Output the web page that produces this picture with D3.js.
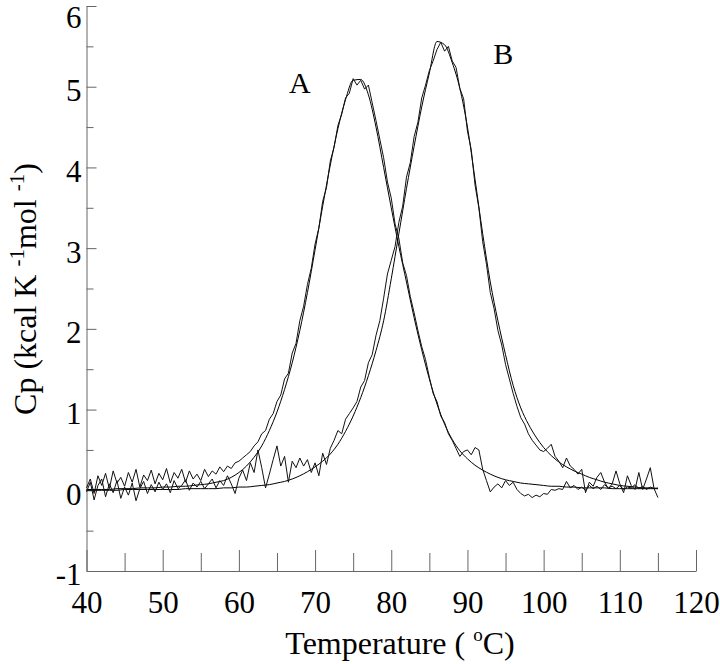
<!DOCTYPE html>
<html>
<head>
<meta charset="utf-8">
<script src="https://cdn.jsdelivr.net/npm/d3@7"></script>
<style>
  body { margin: 0; background: #fff; }
  text { font-family: "Liberation Serif", "Times New Roman", serif; fill: #000; }
</style>
</head>
<body>
<div id="chart"></div>
<script>
// Scan temperatures (deg C) for the raw DSC traces
var scanTemps = [
  40, 40.5, 41, 41.5, 42, 42.5, 43, 43.5, 44, 44.5,
  45, 45.5, 46, 46.5, 47, 47.5, 48, 48.5, 49, 49.5,
  50, 50.5, 51, 51.5, 52, 52.5, 53, 53.5, 54, 54.5,
  55, 55.5, 56, 56.5, 57, 57.5, 58, 58.5, 59, 59.5,
  60, 60.5, 61, 61.5, 62, 62.5, 63, 63.5, 64, 64.5,
  65, 65.5, 66, 66.5, 67, 67.5, 68, 68.5, 69, 69.5,
  70, 70.5, 71, 71.5, 72, 72.5, 73, 73.5, 74, 74.5,
  75, 75.5, 76, 76.5, 77, 77.5, 78, 78.5, 79, 79.5,
  80, 80.5, 81, 81.5, 82, 82.5, 83, 83.5, 84, 84.5,
  85, 85.5, 86, 86.5, 87, 87.5, 88, 88.5, 89, 89.5,
  90, 90.5, 91, 91.5, 92, 92.5, 93, 93.5, 94, 94.5,
  95, 95.5, 96, 96.5, 97, 97.5, 98, 98.5, 99, 99.5,
  100, 100.5, 101, 101.5, 102, 102.5, 103, 103.5, 104, 104.5,
  105, 105.5, 106, 106.5, 107, 107.5, 108, 108.5, 109, 109.5,
  110, 110.5, 111, 111.5, 112, 112.5, 113, 113.5, 114, 114.5,
  115
];

// Raw trace A (Cp, kcal/K/mol)
var rawA = [
  0.03, 0.14, -0.04, 0.18, 0.06, 0.21, 0.02, 0.24, 0.09, 0.16,
  0.05, 0.22, 0.10, 0.26, 0.04, 0.19, 0.12, 0.25, 0.08, 0.21,
  0.13, 0.27, 0.09, 0.22, 0.15, 0.26, 0.10, 0.24, 0.14, 0.20,
  0.12, 0.26, 0.17, 0.24, 0.20, 0.29, 0.23, 0.30, 0.27, 0.34,
  0.36, 0.40, 0.44, 0.48, 0.55, 0.60, 0.70, 0.74, 0.88, 0.95,
  1.10, 1.18, 1.38, 1.45, 1.70, 1.82, 2.10, 2.28, 2.55, 2.75,
  3.05, 3.25, 3.58, 3.75, 4.08, 4.25, 4.52, 4.66, 4.86, 4.92,
  5.10, 5.02, 5.08, 4.97, 5.02, 4.80, 4.58, 4.35, 4.12, 3.82,
  3.62, 3.30, 3.12, 2.82, 2.66, 2.40, 2.20, 1.98, 1.78, 1.62,
  1.40, 1.20, 1.10, 0.92, 0.84, 0.70, 0.62, 0.52, 0.42, 0.48,
  0.50, 0.44, 0.53, 0.50, 0.26, 0.12, -0.02, 0.04, 0.08, 0.03,
  0.12, 0.06, 0.10, 0.01, -0.04, -0.07, -0.05, -0.09, -0.06, -0.08,
  -0.04, -0.05, 0.01, 0.00, 0.02, 0.01, 0.11, 0.03, 0.06, 0.01,
  0.04, 0.00, 0.06, 0.02, 0.05, 0.01, 0.07, 0.03, 0.05, 0.02,
  0.06, 0.01, 0.04, 0.03, 0.07, 0.02, 0.05, 0.01, 0.04, 0.02,
  0.03
];

// Raw trace B (Cp, kcal/K/mol)
var rawB = [
  -0.02, 0.10, -0.12, 0.06, 0.14, -0.08, 0.08, -0.03, 0.12, -0.10,
  0.04, -0.06, 0.09, -0.13, 0.02, 0.11, -0.04, 0.07, -0.02, 0.10,
  0.01, 0.08, -0.03, 0.12, 0.02, 0.06, 0.13, 0.00, 0.09, 0.04,
  0.11, 0.02, 0.08, 0.14, 0.03, 0.12, 0.06, 0.18, 0.08, -0.04,
  0.15, 0.25, 0.12, 0.34, 0.22, 0.50, 0.28, 0.03, 0.20, 0.38,
  0.55, 0.30, 0.42, 0.10, 0.36, 0.28, 0.40, 0.30, 0.38, 0.22,
  0.34, 0.18, 0.46, 0.32, 0.52, 0.62, 0.74, 0.70, 0.88, 0.95,
  1.02, 1.10, 1.28, 1.36, 1.58, 1.68, 1.92, 2.10, 2.38, 2.68,
  2.85, 3.02, 3.32, 3.52, 3.88, 4.06, 4.38, 4.56, 4.86, 5.02,
  5.20, 5.32, 5.46, 5.55, 5.44, 5.50, 5.32, 5.24, 4.98, 4.85,
  4.45, 4.22, 3.78, 3.50, 3.08, 2.80, 2.45, 2.25, 1.98, 1.80,
  1.56, 1.38, 1.20, 1.04, 0.90, 0.82, 0.70, 0.62, 0.56, 0.50,
  0.48, 0.52, 0.57, 0.42, 0.36, 0.28, 0.40, 0.30, 0.26, 0.20,
  0.26, -0.03, 0.10, 0.05, 0.16, 0.22, 0.10, 0.02, 0.08, 0.24,
  0.08, -0.03, 0.18, 0.06, 0.01, 0.22, 0.01, 0.14, 0.28, 0.02,
  -0.09
];

// Temperatures for the fitted curves
var fitTemps = [
  40, 41, 42, 43, 44, 45, 46, 47, 48, 49,
  50, 51, 52, 53, 54, 55, 56, 57, 58, 59,
  60, 61, 62, 63, 64, 65, 66, 67, 68, 69,
  70, 71, 72, 73, 74, 75, 76, 77, 78, 79,
  80, 81, 82, 83, 84, 85, 86, 87, 88, 89,
  90, 91, 92, 93, 94, 95, 96, 97, 98, 99,
  100, 101, 102, 103, 104, 105, 106, 107, 108, 109,
  110, 111, 112, 113, 114, 115
];

// Fitted curve A
var fitA = [
  0.01, 0.01, 0.01, 0.01, 0.02, 0.02, 0.02, 0.03, 0.03, 0.03,
  0.04, 0.04, 0.05, 0.05, 0.06, 0.07, 0.08, 0.10, 0.12, 0.16,
  0.22, 0.30, 0.41, 0.55, 0.74, 0.97, 1.25, 1.58, 1.98, 2.45,
  2.98, 3.52, 4.03, 4.48, 4.84, 5.08, 5.09, 4.90, 4.50, 4.00,
  3.50, 3.02, 2.58, 2.14, 1.74, 1.38, 1.07, 0.82, 0.63, 0.49,
  0.39, 0.31, 0.25, 0.20, 0.16, 0.13, 0.11, 0.09, 0.08, 0.07,
  0.06, 0.05, 0.05, 0.04, 0.04, 0.03, 0.03, 0.03, 0.03, 0.02,
  0.02, 0.02, 0.02, 0.02, 0.02, 0.02
];

// Fitted curve B
var fitB = [
  0.00, 0.00, 0.00, 0.00, 0.00, 0.01, 0.01, 0.01, 0.01, 0.01,
  0.01, 0.01, 0.01, 0.02, 0.02, 0.02, 0.02, 0.02, 0.03, 0.03,
  0.04, 0.04, 0.05, 0.06, 0.07, 0.09, 0.11, 0.14, 0.18, 0.23,
  0.29, 0.36, 0.45, 0.57, 0.73, 0.92, 1.15, 1.42, 1.73, 2.10,
  2.62, 3.18, 3.74, 4.26, 4.75, 5.17, 5.56, 5.52, 5.30, 4.98,
  4.50, 3.85, 3.18, 2.58, 2.10, 1.68, 1.30, 1.02, 0.82, 0.66,
  0.53, 0.43, 0.35, 0.29, 0.24, 0.20, 0.16, 0.13, 0.10, 0.08,
  0.06, 0.05, 0.04, 0.03, 0.03, 0.02
];

// Axis ticks
var xMajorTicks = [40, 50, 60, 70, 80, 90, 100, 110, 120];
var xMinorTicks = [45, 55, 65, 75, 85, 95, 105, 115];
var yMajorTicks = [-1, 0, 1, 2, 3, 4, 5, 6];
var yMinorTicks = [-0.5, 0.5, 1.5, 2.5, 3.5, 4.5, 5.5];

// Peak labels: name and position in data units
var peakNames = ["A", "B"];
var peakLabelPos = [[68, 4.92], [94.7, 5.28]];

// Chart area
var svgWidth = 720;
var svgHeight = 664;

var margin = {
  top: 6,
  right: 24,
  bottom: 93,
  left: 86.5
};

var chartW = svgWidth - margin.left - margin.right;
var chartH = svgHeight - margin.top - margin.bottom;

var svg = d3.select("#chart")
  .append("svg")
  .attr("width", svgWidth)
  .attr("height", svgHeight);

var chartGrp = svg.append("g")
  .attr("transform", `translate(${margin.left}, ${margin.top})`);

// Scales
var xScale = d3.scaleLinear()
  .domain([40, 120])
  .range([0, chartW]);

var yScale = d3.scaleLinear()
  .domain([-1, 6])
  .range([chartH, 0]);

var axisColor = "#666";
var plainFormat = d => String(d);

// Minor ticks first, majors with labels on top
var yMinorAxis = chartGrp.append("g")
  .call(d3.axisLeft(yScale).tickValues(yMinorTicks).tickSize(-7).tickFormat(""));
yMinorAxis.select(".domain").remove();

var yAxis = chartGrp.append("g")
  .call(d3.axisLeft(yScale).tickValues(yMajorTicks).tickSize(-10).tickSizeOuter(0)
    .tickPadding(5).tickFormat(plainFormat));

// keep the top label inside the picture
yAxis.selectAll("text")
  .attr("font-size", "31px")
  .attr("font-family", "Liberation Serif, serif")
  .attr("dy", "0.45em")
  .attr("y", d => Math.max(0, 18 - (yScale(d) + margin.top + 4)));

var xMinorAxis = chartGrp.append("g")
  .attr("transform", `translate(0, ${chartH})`)
  .call(d3.axisBottom(xScale).tickValues(xMinorTicks).tickSize(-18).tickFormat(""));
xMinorAxis.select(".domain").remove();

var xAxis = chartGrp.append("g")
  .attr("transform", `translate(0, ${chartH})`)
  .call(d3.axisBottom(xScale).tickValues(xMajorTicks).tickSize(-21).tickSizeOuter(0)
    .tickFormat(plainFormat));

xAxis.selectAll("text")
  .attr("font-size", "31px")
  .attr("font-family", "Liberation Serif, serif")
  .attr("y", 42)
  .attr("dy", 0);

chartGrp.selectAll(".domain, .tick line")
  .attr("stroke", axisColor)
  .attr("stroke-width", 1);

// Line generators
var rawLine = d3.line()
  .x((d, i) => xScale(scanTemps[i]))
  .y(d => yScale(d));

var fitLine = d3.line()
  .x((d, i) => xScale(fitTemps[i]))
  .y(d => yScale(d))
  .curve(d3.curveMonotoneX);

// Fitted curves
[fitA, fitB].forEach(function(series) {
  chartGrp.append("path")
    .datum(series)
    .attr("fill", "none")
    .attr("stroke", "#000")
    .attr("stroke-width", 1)
    .attr("d", fitLine);
});

// Raw traces
[rawA, rawB].forEach(function(series) {
  chartGrp.append("path")
    .datum(series)
    .attr("fill", "none")
    .attr("stroke", "#111")
    .attr("stroke-width", 1)
    .attr("stroke-linejoin", "round")
    .attr("d", rawLine);
});

// Peak labels
chartGrp.selectAll(".peak-label")
  .data(peakNames)
  .enter()
  .append("text")
  .attr("class", "peak-label")
  .attr("x", (d, i) => xScale(peakLabelPos[i][0]))
  .attr("y", (d, i) => yScale(peakLabelPos[i][1]))
  .attr("text-anchor", "middle")
  .attr("font-size", "30px")
  .text(d => d);

// x-axis label
var xTitle = svg.append("text")
  .attr("x", 400)
  .attr("y", 654)
  .attr("text-anchor", "middle")
  .attr("font-size", "32px");
xTitle.append("tspan").text("Temperature ( ");
xTitle.append("tspan").attr("font-size", "19px").attr("dy", -13).text("o");
xTitle.append("tspan").attr("dy", 13).text("C)");

// y-axis label
var yTitle = svg.append("text")
  .attr("transform", "translate(36, 289) rotate(-90)")
  .attr("text-anchor", "middle")
  .attr("font-size", "32px");
yTitle.append("tspan").text("Cp (kcal K ");
yTitle.append("tspan").attr("font-size", "21px").attr("dy", -12).text("-1");
yTitle.append("tspan").attr("dy", 12).text("mol ");
yTitle.append("tspan").attr("font-size", "21px").attr("dy", -12).text("-1");
yTitle.append("tspan").attr("dy", 12).text(")");
</script>
</body>
</html>
